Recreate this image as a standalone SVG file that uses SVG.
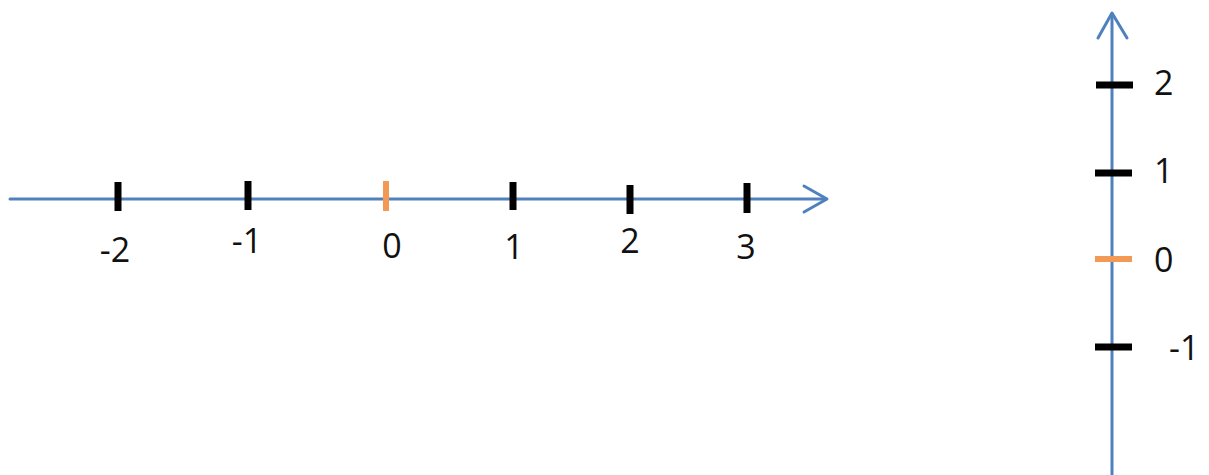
<svg xmlns="http://www.w3.org/2000/svg" width="1209" height="475" viewBox="0 0 1209 475">
<style>
.axis{stroke:#4f81bd;stroke-width:3;fill:none;stroke-linecap:round;stroke-linejoin:round}
.tick{stroke:#000;stroke-width:7}
.zero{stroke:#f29a55;stroke-width:6}
.lbl{font-family:"Open Sans","Liberation Sans",Arial,sans-serif;font-size:34px;fill:#111}
.m{text-anchor:middle}
</style>
<rect width="1209" height="475" fill="#fff"/>
<g id="connectors">
<path class="axis" d="M10 199 H826"/>
<path class="axis" d="M804 186 L827 199 L804 212"/>
<path class="axis" d="M1112 475 V14"/>
<path class="axis" d="M1098 38 L1112 13 L1127 38"/>
</g>
<g id="h-neg2"><line class="tick" x1="118" y1="182" x2="118" y2="211"/><text class="lbl m" x="115" y="262">-2</text></g>
<g id="h-neg1"><line class="tick" x1="248" y1="181" x2="248" y2="210"/><text class="lbl m" x="247" y="253">-1</text></g>
<g id="h-0"><line class="zero" x1="386" y1="181" x2="386" y2="211"/><text class="lbl m" x="392" y="258">0</text></g>
<g id="h-1"><line class="tick" x1="513" y1="182" x2="513" y2="210"/><text class="lbl m" x="514" y="259">1</text></g>
<g id="h-2"><line class="tick" x1="630" y1="185" x2="630" y2="214"/><text class="lbl m" x="630" y="253">2</text></g>
<g id="h-3"><line class="tick" x1="747" y1="183" x2="747" y2="213"/><text class="lbl m" x="746" y="259">3</text></g>
<g id="v-2"><line class="tick" x1="1096" y1="85" x2="1133" y2="85"/><text class="lbl" x="1154" y="95">2</text></g>
<g id="v-1"><line class="tick" x1="1095" y1="173" x2="1132" y2="173"/><text class="lbl" x="1154" y="183">1</text></g>
<g id="v-0"><line class="zero" x1="1095" y1="259" x2="1132" y2="259"/><text class="lbl" x="1154" y="272">0</text></g>
<g id="v-neg1"><line class="tick" x1="1095" y1="347" x2="1132" y2="347"/><text class="lbl" x="1169" y="360">-1</text></g>
</svg>
